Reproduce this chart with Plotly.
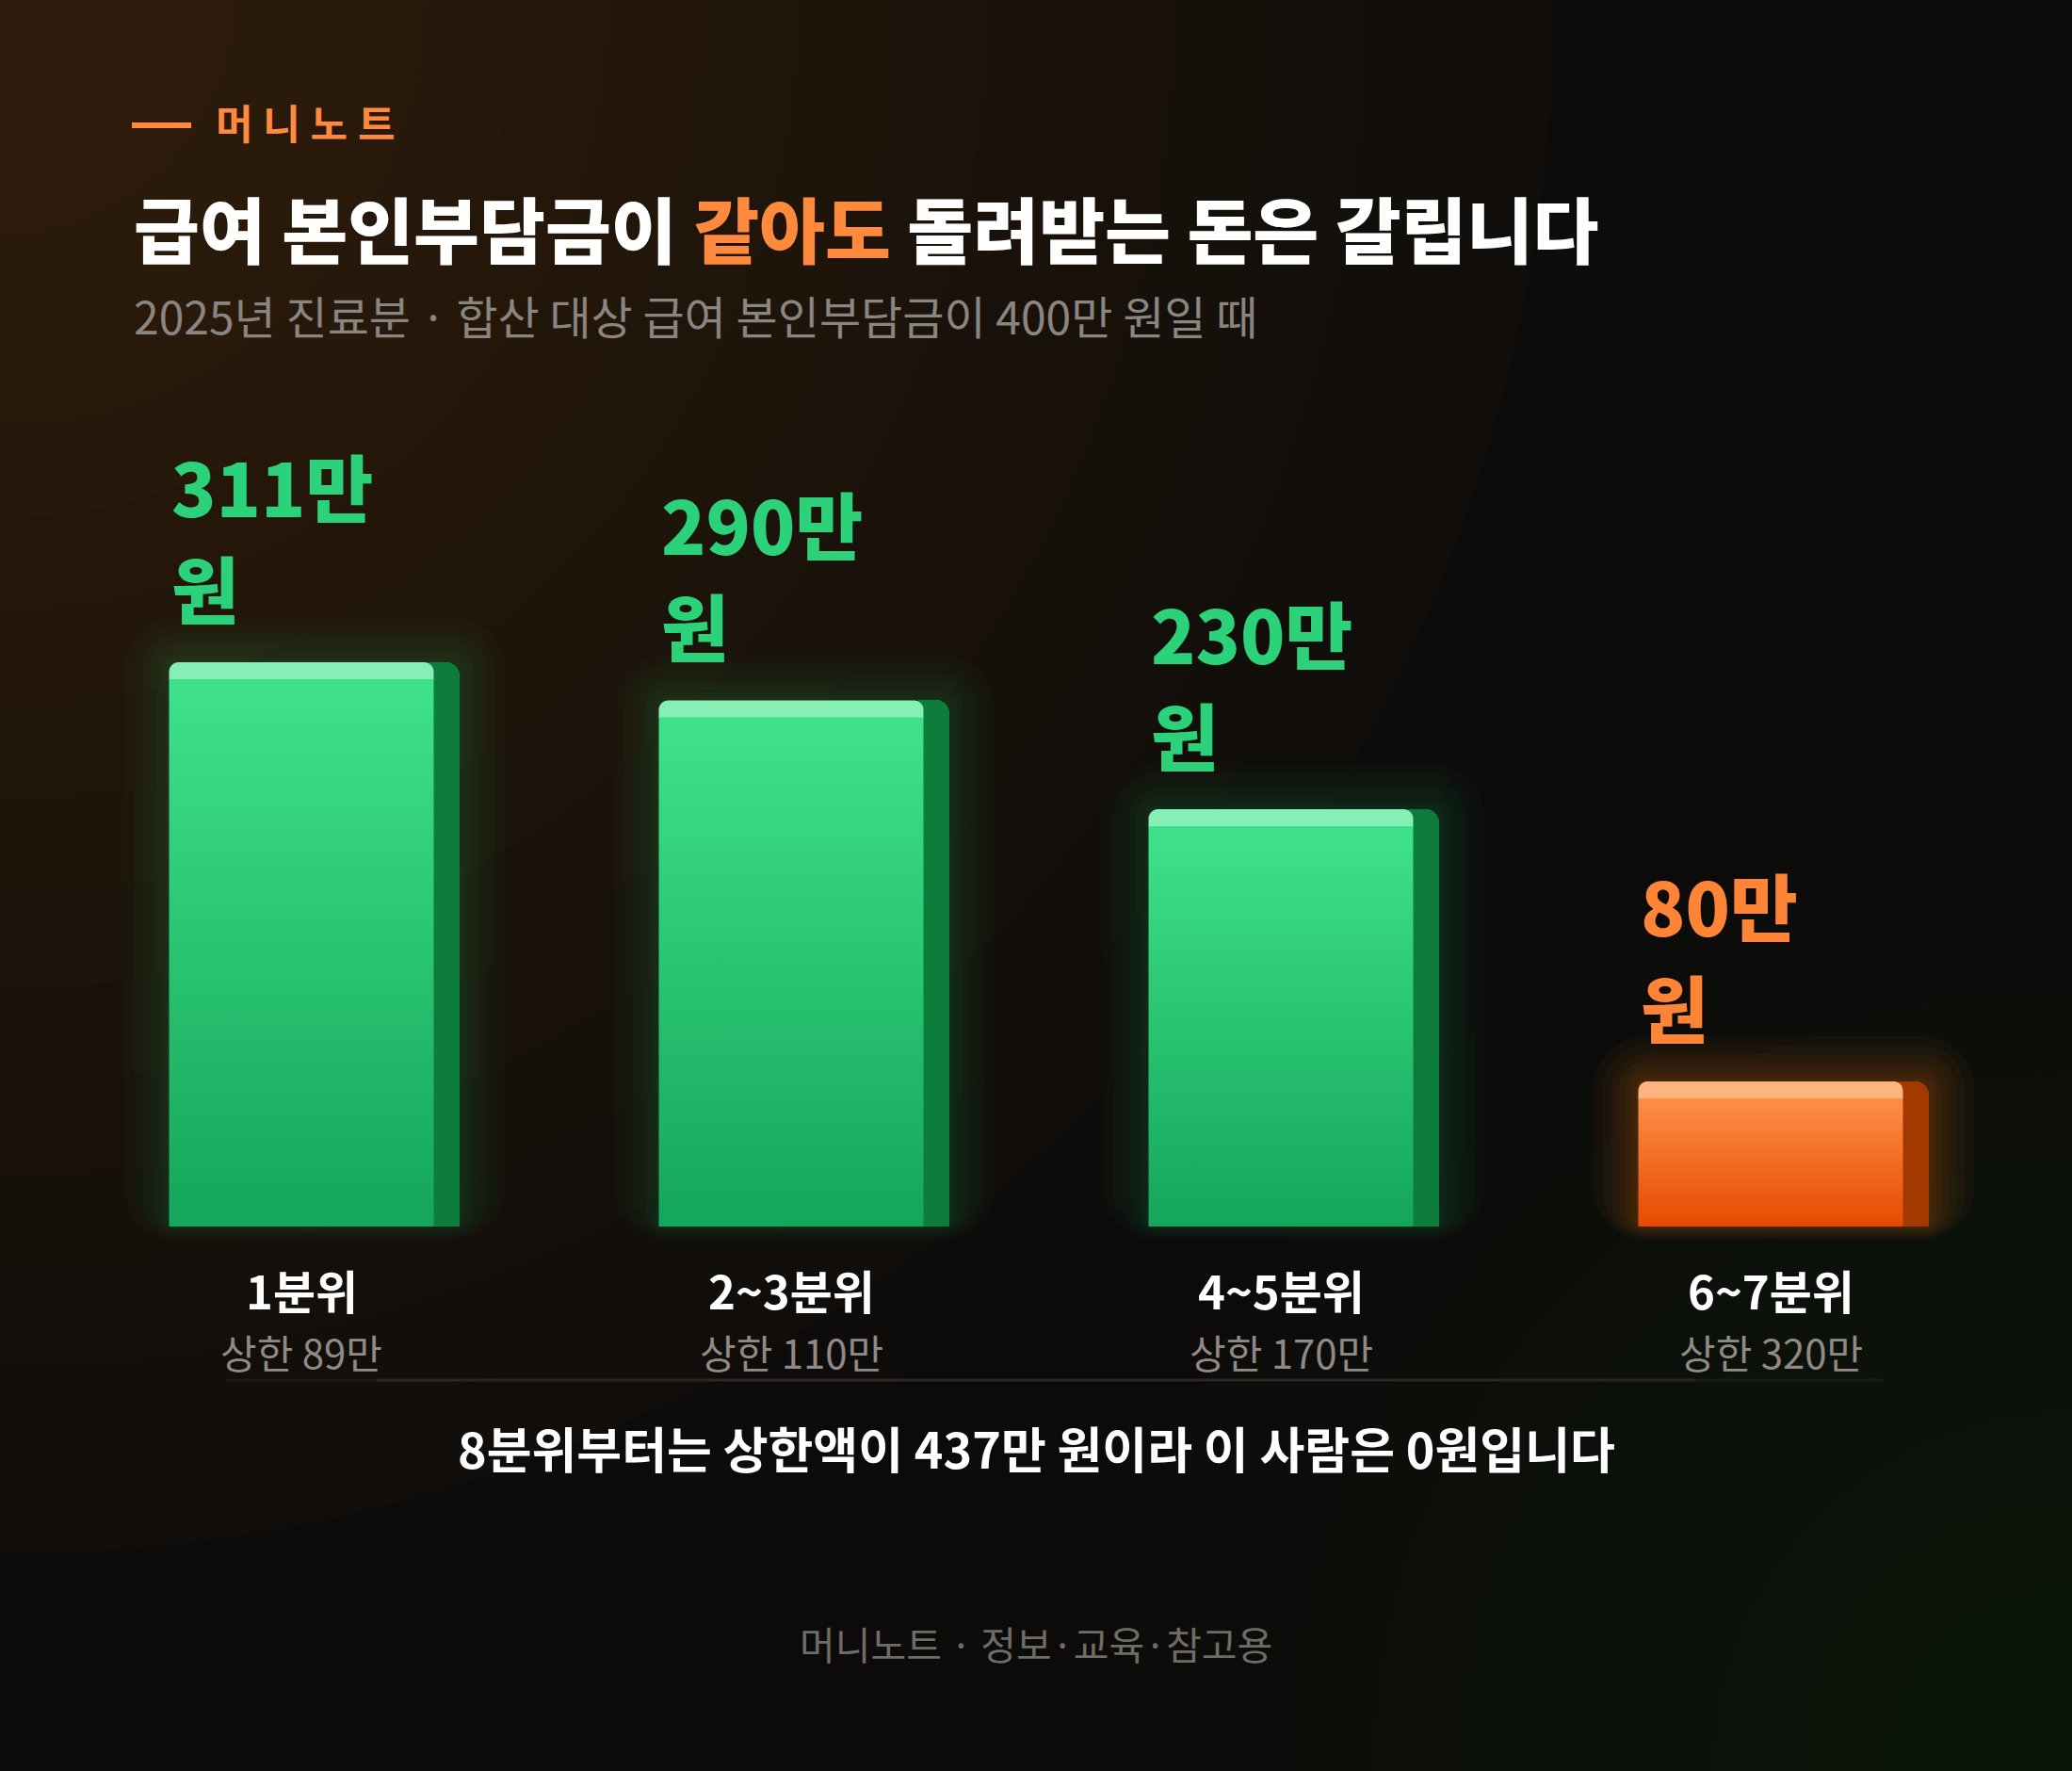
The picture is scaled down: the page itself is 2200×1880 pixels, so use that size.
import math
import plotly.graph_objects as go

# ---------------- data ----------------
categories = ["1분위", "2~3분위", "4~5분위", "6~7분위"]
caps = ["상한 89만", "상한 110만", "상한 170만", "상한 320만"]
refunds = [311, 290, 230, 80]          # 만 원
value_top = ["311만", "290만", "230만", "80만"]
value_bottom = ["원", "원", "원", "원"]
highlight_flags = [False, False, False, True]

# ---------------- geometry / style ----------------
W, H = 2200, 1880
FONT = "Noto Sans CJK KR"
PX_PER_X = 520.0                 # pixels per category step
Y0, Y1 = -300.1, 676.0           # y-axis range
PX_PER_Y = H / (Y1 - Y0)
X0 = -320.0 / PX_PER_X
X1 = X0 + W / PX_PER_X

FW = 281 / PX_PER_X              # front face width (x units)
SW = 27 / PX_PER_X               # side face width
HL = 18 / PX_PER_Y               # top highlight height (y units)
RX, RY = 10 / PX_PER_X, 10 / PX_PER_Y   # highlight corner radius

green = dict(top="#3fe28a", bot="#14a65a", hl="#86efb5", side="#0d7d3c",
             glow="rgba(40,210,110,{a})", label="#2bd27a", ga=0.022)
orange = dict(top="#ff8e47", bot="#e64a00", hl="#ffb37f", side="#a23900",
              glow="rgba(255,120,30,{a})", label="#ff8436", ga=0.04)
styles = [orange if f else green for f in highlight_flags]
idx = list(range(len(categories)))

fig = go.Figure()

# glow layers
for pad_px in [3, 8, 14, 21, 29, 38, 48]:
    pad_x = pad_px / PX_PER_X
    pad_y = pad_px / PX_PER_Y
    fig.add_trace(go.Bar(
        x=idx, y=[v + pad_y * 1.3 for v in refunds],
        base=[-pad_y * 0.3] * len(refunds),
        width=FW + SW + 2 * pad_x,
        offset=-FW / 2 - pad_x,
        marker=dict(color=[s["glow"].format(a=s["ga"]) for s in styles],
                    line=dict(width=0), cornerradius=pad_px + 8),
        hoverinfo="skip", showlegend=False))

# side faces
fig.add_trace(go.Bar(
    x=idx, y=refunds, width=SW + 0.03, offset=FW / 2 - 0.03,
    marker=dict(color=[s["side"] for s in styles], line=dict(width=0), cornerradius=14),
    hoverinfo="skip", showlegend=False))

# front faces with vertical gradient
for i, v in enumerate(refunds):
    s = styles[i]
    top = v - HL + 0.3
    fig.add_trace(go.Scatter(
        x=[i - FW / 2, i + FW / 2, i + FW / 2, i - FW / 2, i - FW / 2],
        y=[0, 0, top, top, 0],
        mode="none", fill="toself",
        fillgradient=dict(type="vertical", colorscale=[[0, s["bot"]], [1, s["top"]]],
                          start=0, stop=top),
        hoverinfo="skip", showlegend=False))

# top highlight strips with rounded top corners
for i, v in enumerate(refunds):
    xl, xr = i - FW / 2, i + FW / 2
    hx, hy = [xl], [v - HL]
    for k in range(9):
        a = math.pi - k * (math.pi / 2) / 8
        hx.append(xl + RX + RX * math.cos(a)); hy.append(v - RY + RY * math.sin(a))
    for k in range(9):
        a = math.pi / 2 - k * (math.pi / 2) / 8
        hx.append(xr - RX + RX * math.cos(a)); hy.append(v - RY + RY * math.sin(a))
    hx += [xr, xl]; hy += [v - HL, v - HL]
    fig.add_trace(go.Scatter(
        x=hx, y=hy, mode="none", fill="toself", fillcolor=styles[i]["hl"],
        hoverinfo="skip", showlegend=False))

annotations = []
for i, v in enumerate(refunds):
    # value labels (two lines as separate texts)
    annotations.append(dict(
        x=i - FW / 2, y=v, xref="x", yref="y", xanchor="left", yanchor="bottom",
        yshift=22, text=value_bottom[i], showarrow=False, align="left",
        font=dict(family=FONT, size=78, color=styles[i]["label"], weight=800)))
    annotations.append(dict(
        x=i - FW / 2, y=v, xref="x", yref="y", xanchor="left", yanchor="bottom",
        yshift=22 + 108, text=value_top[i], showarrow=False, align="left",
        font=dict(family=FONT, size=78, color=styles[i]["label"], weight=800)))
    # category labels
    annotations.append(dict(
        x=i, y=1 - 1368 / H, xref="x", yref="paper", xanchor="center", yanchor="middle",
        text=categories[i], showarrow=False,
        font=dict(family=FONT, size=49, color="#ffffff", weight=700)))
    annotations.append(dict(
        x=i, y=1 - 1434 / H, xref="x", yref="paper", xanchor="center", yanchor="middle",
        text=caps[i], showarrow=False,
        font=dict(family=FONT, size=42, color="#8f8a85", weight=400)))

# header / footer texts
annotations += [
    dict(x=227 / W, y=1 - 129 / H, xref="paper", yref="paper", xanchor="left", yanchor="middle",
         text="머\u2005니\u2005노\u2005트", showarrow=False,
         font=dict(family=FONT, size=43, color="#ff8a3d", weight=700)),
    dict(x=140 / W, y=1 - 241 / H, xref="paper", yref="paper", xanchor="left", yanchor="middle",
         text="급여 본인부담금이 <span style='color:#ff8a3d'>같아도</span> 돌려받는 돈은 갈립니다",
         showarrow=False, font=dict(family=FONT, size=76, color="#ffffff", weight=800)),
    dict(x=140 / W, y=1 - 334 / H, xref="paper", yref="paper", xanchor="left", yanchor="middle",
         text="2025년 진료분 · 합산 대상 급여 본인부담금이 400만 원일 때",
         showarrow=False, font=dict(family=FONT, size=48, color="#8a8580", weight=400)),
    dict(x=1100 / W, y=1 - 1536 / H, xref="paper", yref="paper", xanchor="center", yanchor="middle",
         text="8분위부터는 상한액이 437만 원이라 이 사람은 0원입니다",
         showarrow=False, font=dict(family=FONT, size=52, color="#ffffff", weight=700)),
    dict(x=1100 / W, y=1 - 1744 / H, xref="paper", yref="paper", xanchor="center", yanchor="middle",
         text="머니노트 · 정보·교육·참고용",
         showarrow=False, font=dict(family=FONT, size=41, color="#6f6b67", weight=400)),
]

shapes = []
# background glows (top-left warm, bottom-right green)
for r in range(16):
    rad = 250 + r * 100
    shapes.append(dict(type="circle", xref="paper", yref="paper", layer="below",
                       x0=(-rad) / W, x1=(rad) / W, y0=1 - rad / H, y1=1 + rad / H,
                       fillcolor="rgba(120,70,35,0.024)", line=dict(width=0)))
for r in range(10):
    rad = 200 + r * 90
    shapes.append(dict(type="circle", xref="paper", yref="paper", layer="below",
                       x0=(W - rad) / W, x1=(W + rad) / W, y0=-rad / H, y1=rad / H,
                       fillcolor="rgba(40,80,45,0.02)", line=dict(width=0)))
# orange dash
shapes.append(dict(type="line", xref="paper", yref="paper",
                   x0=140 / W, x1=203 / W, y0=1 - 133 / H, y1=1 - 133 / H,
                   line=dict(color="#ff8a3d", width=6)))
# divider line with faded ends
segs = [(240, 400, 0.35), (400, 1800, 0.7), (1800, 2000, 0.35)]
for a, b, op in segs:
    shapes.append(dict(type="line", xref="paper", yref="paper",
                       x0=a / W, x1=b / W, y0=1 - 1465 / H, y1=1 - 1465 / H,
                       line=dict(color=f"rgba(58,50,44,{op})", width=3)))

fig.update_layout(
    width=W, height=H, margin=dict(l=0, r=0, t=0, b=0),
    paper_bgcolor="#0c0b0a", plot_bgcolor="rgba(0,0,0,0)",
    barmode="overlay", bargap=0,
    xaxis=dict(range=[X0, X1], visible=False, fixedrange=True),
    yaxis=dict(range=[Y0, Y1], visible=False, fixedrange=True),
    annotations=annotations, shapes=shapes, showlegend=False,
    font=dict(family=FONT),
)

fig.write_html("out.html", config={"displayModeBar": False},
               post_script="document.body.style.margin='0';")
